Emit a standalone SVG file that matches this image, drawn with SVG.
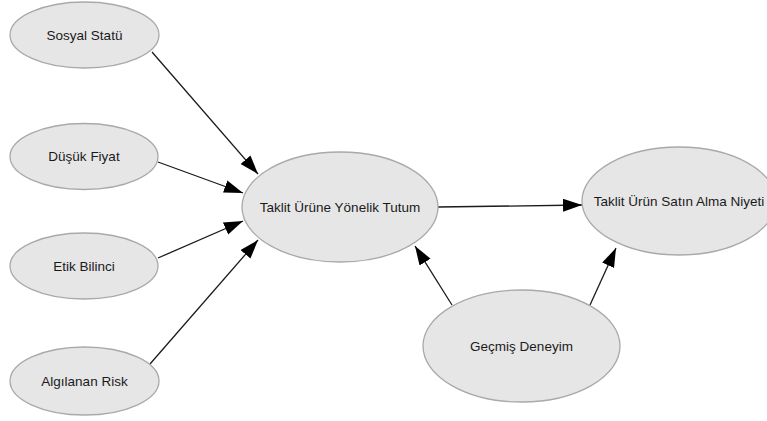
<svg xmlns="http://www.w3.org/2000/svg" width="767" height="421" viewBox="0 0 767 421">
<style>
.n ellipse{fill:#e6e6e6;stroke:#a9a9a9;stroke-width:1.3}
.n text{font-family:"Liberation Sans",Arial,sans-serif;font-size:13.5px;fill:#1a1a1a;text-anchor:middle;dominant-baseline:central}
.e line{stroke:#1a1a1a;stroke-width:1.3;marker-end:url(#ah)}
</style>
<defs>
<marker id="ah" markerUnits="userSpaceOnUse" markerWidth="20" markerHeight="14" refX="19" refY="6.5" orient="auto">
<path d="M0,0 L19,6.5 L0,13 z" fill="#000"/>
</marker>
</defs>
<rect width="767" height="421" fill="#fff"/>
<g class="e">
<line x1="152" y1="52" x2="258" y2="174"/>
<line x1="158" y1="162" x2="243" y2="193"/>
<line x1="158" y1="258" x2="243" y2="221"/>
<line x1="150" y1="364" x2="258" y2="240"/>
<line x1="438" y1="207" x2="582" y2="205"/>
<line x1="452" y1="305" x2="415" y2="246"/>
<line x1="590" y1="305" x2="616" y2="248"/>
</g>
<g id="sosyal" class="n"><ellipse cx="84.5" cy="35" rx="74.5" ry="33"/><text x="84.5" y="35">Sosyal Statü</text></g>
<g id="dusuk" class="n"><ellipse cx="84" cy="156.5" rx="74" ry="33"/><text x="84" y="156.5">Düşük Fiyat</text></g>
<g id="etik" class="n"><ellipse cx="84" cy="266" rx="74" ry="33"/><text x="84" y="266">Etik Bilinci</text></g>
<g id="risk" class="n"><ellipse cx="84.5" cy="381" rx="74.5" ry="34"/><text x="84.5" y="381">Algılanan Risk</text></g>
<g id="tutum" class="n"><ellipse cx="340" cy="207" rx="98" ry="55"/><text x="340" y="207">Taklit Ürüne Yönelik Tutum</text></g>
<g id="niyet" class="n"><ellipse cx="679" cy="201" rx="97" ry="54"/><text x="679" y="201">Taklit Ürün Satın Alma Niyeti</text></g>
<g id="gecmis" class="n"><ellipse cx="521.5" cy="346" rx="98.5" ry="56"/><text x="521.5" y="346">Geçmiş Deneyim</text></g>
</svg>
